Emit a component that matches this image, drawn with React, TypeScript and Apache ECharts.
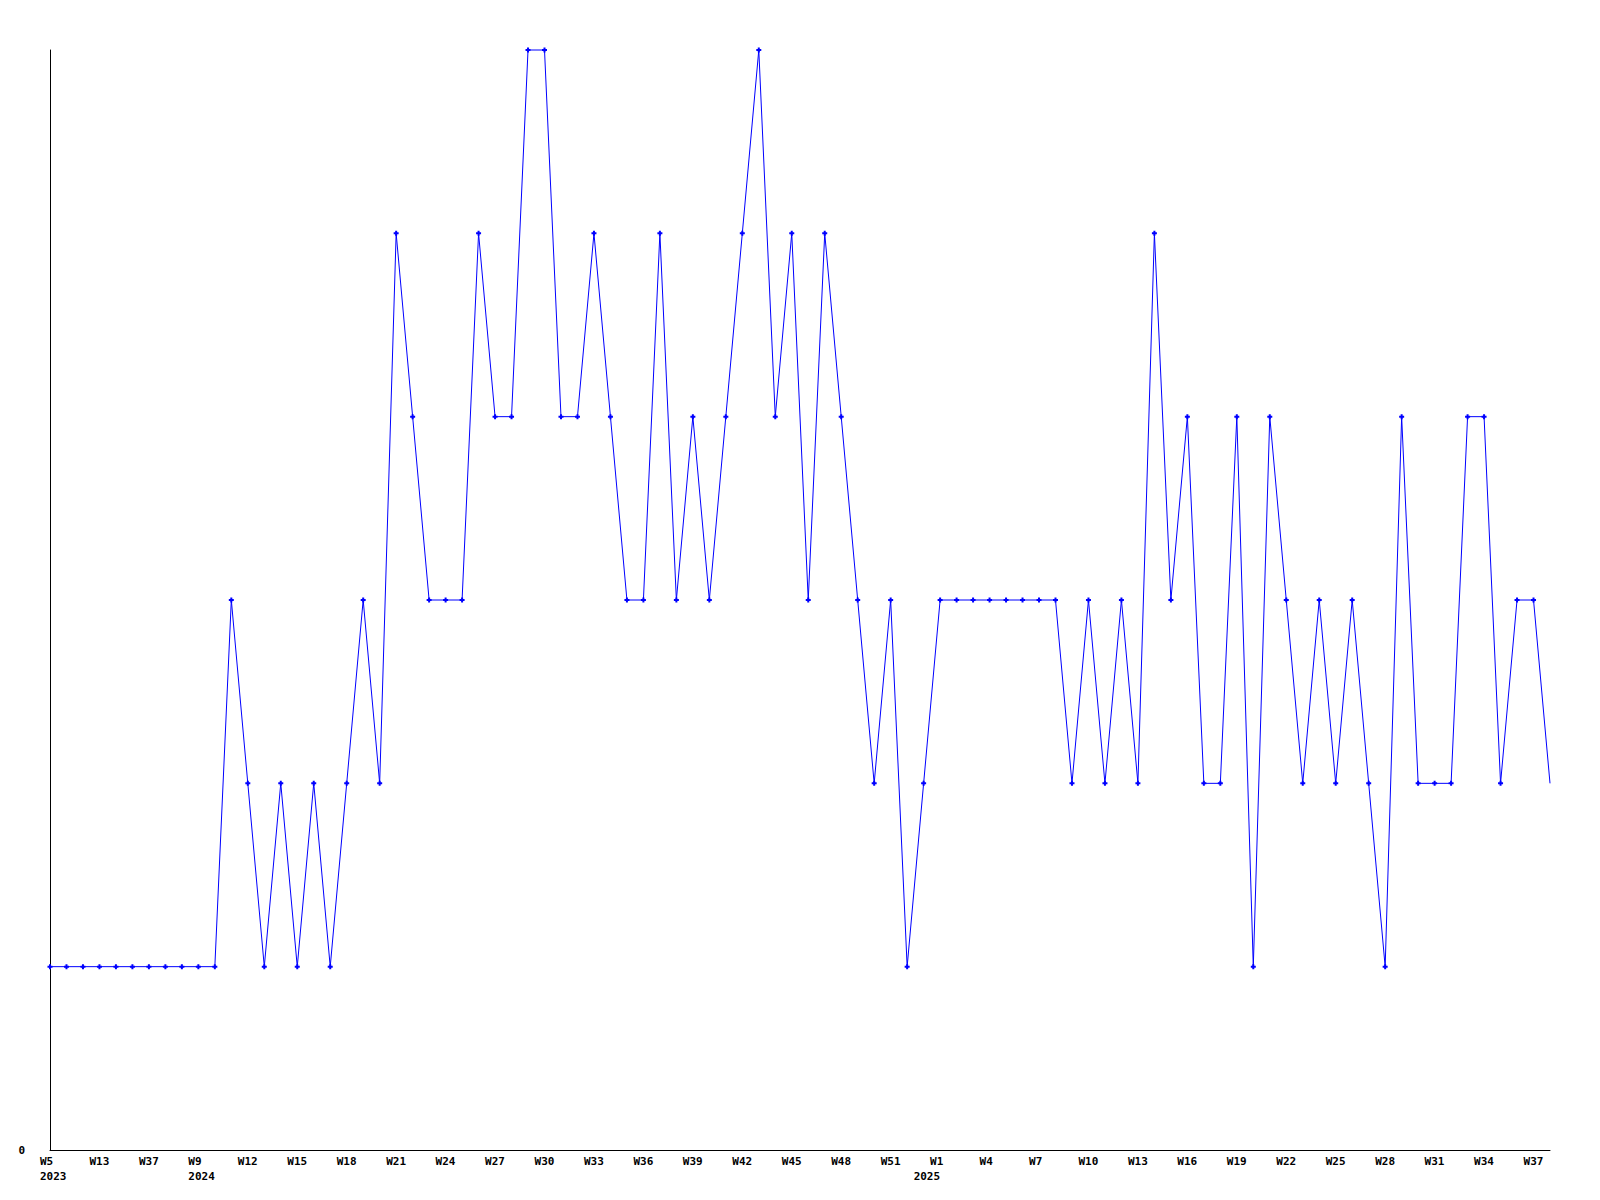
import React, { useEffect, useRef } from "react";
import * as echarts from "echarts";

const weeks: string[] = [
  "W5", "W8", "W10", "W13", "W20", "W28", "W37", "W44", "W50",
  "W9", "W10", "W11", "W12", "W13", "W14", "W15", "W16", "W17", "W18", "W19", "W20",
  "W21", "W22", "W23", "W24", "W25", "W26", "W27", "W28", "W29", "W30",
  "W31", "W32", "W33", "W34", "W35", "W36", "W37", "W38", "W39", "W40",
  "W41", "W42", "W43", "W44", "W45", "W46", "W47", "W48", "W49", "W50",
  "W51", "W52",
  "W1", "W1", "W2", "W3", "W4", "W5", "W6", "W7", "W8", "W9", "W10",
  "W11", "W12", "W13", "W14", "W15", "W16", "W17", "W18", "W19", "W20",
  "W21", "W22", "W23", "W24", "W25", "W26", "W27", "W28", "W29", "W30",
  "W31", "W32", "W33", "W34", "W35", "W36", "W37", "W38",
];

const years: string[] = [
  ...Array(9).fill("2023"),
  ...Array(44).fill("2024"),
  ...Array(39).fill("2025"),
];

const values: number[] = [
  1, 1, 1, 1, 1, 1, 1, 1, 1, 1, 1,
  3, 2, 1, 2, 1, 2, 1, 2, 3, 2,
  5, 4, 3, 3, 3, 5, 4, 4, 6, 6,
  4, 4, 5, 4, 3, 3, 5, 3, 4, 3,
  4, 5, 6, 4, 5, 3, 5, 4, 3, 2,
  3, 1, 2, 3, 3, 3, 3, 3, 3, 3, 3,
  2, 3, 2, 3, 2, 5, 3, 4, 2,
  2, 4, 1, 4, 3, 2, 3, 2, 3, 2,
  1, 4, 2, 2, 2, 4, 4, 2, 3, 3, 2,
];

const yMin = 0;
const yMax = 6;

export default function App() {
  const ref = useRef<HTMLDivElement>(null);

  useEffect(() => {
    if (!ref.current) return;
    const chart = echarts.init(ref.current, null, { renderer: "svg" });
    const font = "DejaVu Sans Mono";
    const lastIdx = values.length - 1;
    const labelStyle = {
      width: 20,
      align: "left",
      fontFamily: font,
      fontWeight: "bold",
      fontSize: 11,
      lineHeight: 15,
      color: "#000000",
    };
    chart.setOption({
      animation: false,
      backgroundColor: "#ffffff",
      grid: { left: 50, right: 50, top: 50, bottom: 50, containLabel: false },
      xAxis: [
        {
          type: "category",
          data: weeks,
          boundaryGap: false,
          axisLine: { show: true, lineStyle: { color: "#000000", width: 1 } },
          axisTick: { show: false },
          splitLine: { show: false },
          axisLabel: {
            interval: 2,
            margin: 4,
            align: "center",
            color: "#000000",
            formatter: (value: string) => `{a|${value}}`,
            rich: { a: labelStyle },
          },
        },
        {
          type: "category",
          data: weeks,
          boundaryGap: false,
          position: "bottom",
          axisLine: { show: false },
          axisTick: { show: false },
          splitLine: { show: false },
          axisLabel: {
            interval: 0,
            margin: 19,
            align: "center",
            color: "#000000",
            formatter: (_v: string, index: number) =>
              index === 0 || years[index] !== years[index - 1]
                ? `{a|${years[index]}}`
                : "",
            rich: { a: labelStyle },
          },
        },
      ],
      yAxis: {
        type: "value",
        min: yMin,
        max: yMax,
        interval: 6,
        axisLine: { show: true, lineStyle: { color: "#000000", width: 1 } },
        axisTick: { show: false },
        splitLine: { show: false },
        axisLabel: {
          margin: 25,
          color: "#000000",
          fontFamily: font,
          fontWeight: "bold",
          fontSize: 11,
          formatter: (v: number) => (v === 0 ? "0" : ""),
        },
      },
      series: [
        {
          type: "line",
          xAxisIndex: 0,
          data: values.map((v, i) =>
            i === lastIdx ? { value: v, symbol: "none" } : v
          ),
          symbol: "path://M1.5,0H3.5V1.5H5V3.5H3.5V5H1.5V3.5H0V1.5H1.5Z",
          symbolSize: 5,
          showSymbol: true,
          showAllSymbol: true,
          lineStyle: { color: "#0000ff", width: 1 },
          itemStyle: { color: "#0000ff" },
          clip: false,
        },
      ],
    });
    return () => chart.dispose();
  }, []);

  return (
    <div
      ref={ref}
      style={{
        position: "fixed",
        left: 0,
        top: 0,
        width: 1600,
        height: 1200,
        background: "#ffffff",
      }}
    />
  );
}
